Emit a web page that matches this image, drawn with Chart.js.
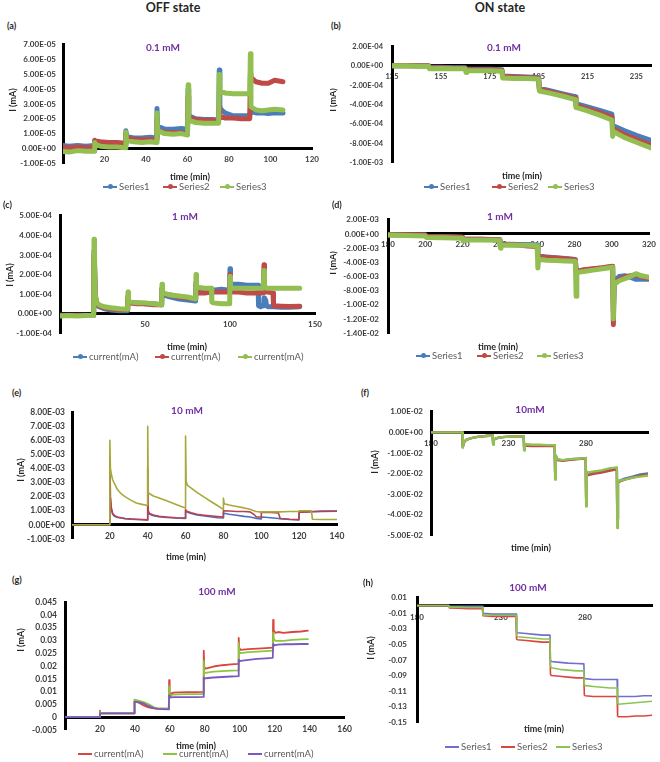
<!DOCTYPE html>
<html><head><meta charset="utf-8">
<script src="https://cdn.jsdelivr.net/npm/chart.js@4.4.0/dist/chart.umd.min.js"></script>
<style>
body{margin:0;width:660px;height:762px;background:#fff;position:relative;overflow:hidden;font-family:Lato,sans-serif;}
canvas{position:absolute;}
.t{position:absolute;white-space:nowrap;transform:translate(-50%,-50%);font-weight:bold;color:#262626;line-height:1;}
.pl{position:absolute;white-space:nowrap;font-weight:bold;color:#262626;line-height:1;transform:translateY(-50%);}
.yl{position:absolute;white-space:nowrap;font-weight:bold;color:#262626;line-height:1;transform:translate(-50%,-50%) rotate(-90deg);}
.clip{position:absolute;overflow:hidden;}
.lg{position:absolute;height:12px;line-height:12px;font-size:9.5px;color:#595959;white-space:nowrap;}
.ln{display:inline-block;position:relative;width:14px;height:2px;vertical-align:middle;margin-right:2px;top:-1px;}
.ln i{position:absolute;left:4.5px;top:-1.5px;width:5px;height:5px;border-radius:50%;}
</style></head><body>
<script>
// ---------- data ----------
const seriesNames = ['Series1','Series2','Series3'];
const currentNames = ['current(mA)','current(mA)','current(mA)'];

// (a) OFF 0.1 mM
const aT  = [0,3,7,11,15, 15.3,15.6,18,22,26,30, 30.3,30.6,34,38,42,45, 45.3,45.6,49,53,57,60, 60.3,60.6,64,68,72,75, 75.3,75.6,78,82,86,90, 90.3,90.6,93,96,99,102,106];
const aS1 = [0.2e-5,0.15e-5,0.2e-5,0.15e-5,0.2e-5, 0.5e-5,0.35e-5,0.3e-5,0.3e-5,0.25e-5,0.25e-5, 1.2e-5,0.8e-5,0.7e-5,0.7e-5,0.75e-5,0.7e-5, 2.7e-5,1.5e-5,1.3e-5,1.3e-5,1.35e-5,1.3e-5, 4.0e-5,2.2e-5,2.0e-5,1.95e-5,1.95e-5,1.9e-5, 5.3e-5,2.7e-5,2.4e-5,2.2e-5,2.2e-5,2.2e-5, 2.6e-5,2.5e-5,2.4e-5,2.4e-5,2.35e-5,2.4e-5,2.4e-5];
const aS2 = [0.1e-5,0.05e-5,0.1e-5,0.05e-5,0.1e-5, 0.55e-5,0.5e-5,0.45e-5,0.4e-5,0.4e-5,0.35e-5, 1.0e-5,0.7e-5,0.6e-5,0.6e-5,0.6e-5,0.6e-5, 2.0e-5,1.2e-5,1.1e-5,1.05e-5,1.05e-5,1.0e-5, 3.5e-5,2.0e-5,1.95e-5,1.9e-5,1.9e-5,1.9e-5, 2.8e-5,2.2e-5,2.05e-5,2.05e-5,2.0e-5,2.0e-5, 5.0e-5,4.8e-5,4.5e-5,4.4e-5,4.4e-5,4.6e-5,4.5e-5];
const aS3 = [-0.2e-5,-0.25e-5,-0.15e-5,-0.2e-5,-0.2e-5, 0.4e-5,0.25e-5,0.15e-5,0.1e-5,0.1e-5,0.05e-5, 1.1e-5,0.55e-5,0.45e-5,0.4e-5,0.45e-5,0.4e-5, 2.4e-5,1.2e-5,1.0e-5,0.95e-5,1.0e-5,0.9e-5, 4.3e-5,1.9e-5,1.75e-5,1.7e-5,1.7e-5,1.7e-5, 5.0e-5,3.9e-5,3.75e-5,3.7e-5,3.7e-5,3.7e-5, 6.4e-5,2.8e-5,2.6e-5,2.55e-5,2.6e-5,2.65e-5,2.6e-5];
const aXTicks = [20,40,60,80,100,120];
const aYTicks = [-1e-5,0,1e-5,2e-5,3e-5,4e-5,5e-5,6e-5,7e-5];

// (b) ON 0.1 mM
const bT  = [135,140,145,150, 150.3,155,160,165, 165.3,165.6,170,175,180, 180.3,185,190,195, 195.3,200,205,210, 210.3,215,220,225, 225.3,225.6,230,235,241];
const bS1 = [0,0,0,0, -0.15e-4,-0.15e-4,-0.2e-4,-0.2e-4, -0.4e-4,-0.35e-4,-0.35e-4,-0.35e-4,-0.4e-4, -1.05e-4,-1.1e-4,-1.15e-4,-1.2e-4, -2.3e-4,-2.6e-4,-2.9e-4,-3.2e-4, -3.9e-4,-4.25e-4,-4.6e-4,-5.0e-4, -6.1e-4,-6.2e-4,-6.7e-4,-7.2e-4,-7.7e-4];
const bS2 = [0,0,0,0, -0.2e-4,-0.2e-4,-0.25e-4,-0.25e-4, -0.45e-4,-0.4e-4,-0.4e-4,-0.4e-4,-0.45e-4, -1.1e-4,-1.15e-4,-1.2e-4,-1.25e-4, -2.4e-4,-2.7e-4,-3.0e-4,-3.35e-4, -4.1e-4,-4.45e-4,-4.85e-4,-5.3e-4, -6.4e-4,-6.5e-4,-7.1e-4,-7.6e-4,-8.2e-4];
const bS3 = [0,0,-0.05e-4,-0.05e-4, -0.3e-4,-0.28e-4,-0.3e-4,-0.3e-4, -0.7e-4,-0.5e-4,-0.5e-4,-0.5e-4,-0.55e-4, -1.25e-4,-1.3e-4,-1.3e-4,-1.35e-4, -2.6e-4,-2.85e-4,-3.15e-4,-3.5e-4, -4.3e-4,-4.65e-4,-5.1e-4,-5.6e-4, -7.3e-4,-6.8e-4,-7.4e-4,-7.9e-4,-8.5e-4];
const bXTicks = [135,155,175,195,215,235];
const bYTicks = [-1e-3,-8e-4,-6e-4,-4e-4,-2e-4,0,2e-4];

// (c) OFF 1 mM
const cT  = [0,5,10,15,19.8, 20,20.3,20.8,21.5,23,26,30,35,39.8, 40,40.3,41,45,50,55,59.8, 60,60.3,61,65,70,75,79.8, 80,80.3,81,85,89,89.3,90,95,99.8, 100,100.3,101,105,110,116.5,116.8,118,119.5,119.8, 120,120.3,121,121.5,122.5,125.3,125.6,130,135,141];
const cS1 = [-0.1e-4,-0.08e-4,-0.1e-4,-0.08e-4,-0.1e-4, 3.0e-4,2.4e-4,0.9e-4,0.5e-4,0.35e-4,0.25e-4,0.18e-4,0.15e-4,0.15e-4, 0.9e-4,0.6e-4,0.55e-4,0.55e-4,0.5e-4,0.5e-4,0.45e-4, 1.3e-4,1.0e-4,0.95e-4,0.85e-4,0.75e-4,0.7e-4,0.65e-4, 1.6e-4,1.15e-4,1.1e-4,1.15e-4,1.2e-4,1.2e-4,1.2e-4,1.25e-4,1.2e-4, 2.3e-4,1.6e-4,1.5e-4,1.5e-4,1.45e-4,1.45e-4,0.4e-4,0.35e-4,0.45e-4,0.4e-4, 0.8e-4,0.7e-4,0.7e-4,0.4e-4,0.35e-4,0.35e-4,0.35e-4,0.33e-4,0.33e-4,0.35e-4];
const cS2 = [-0.08e-4,-0.1e-4,-0.08e-4,-0.1e-4,-0.08e-4, 3.2e-4,2.5e-4,0.9e-4,0.55e-4,0.4e-4,0.3e-4,0.25e-4,0.2e-4,0.2e-4, 0.8e-4,0.6e-4,0.55e-4,0.5e-4,0.5e-4,0.45e-4,0.45e-4, 1.3e-4,1.05e-4,1.0e-4,0.95e-4,0.85e-4,0.8e-4,0.75e-4, 1.5e-4,1.1e-4,1.05e-4,1.05e-4,1.1e-4,1.1e-4,1.1e-4,1.1e-4,1.1e-4, 2.0e-4,1.2e-4,1.1e-4,1.1e-4,1.05e-4,1.05e-4,1.05e-4,1.05e-4,1.05e-4,1.05e-4, 2.5e-4,1.3e-4,1.15e-4,1.1e-4,1.1e-4,1.05e-4,0.4e-4,0.38e-4,0.36e-4,0.38e-4];
const cS3 = [-0.12e-4,-0.1e-4,-0.12e-4,-0.1e-4,-0.1e-4, 3.8e-4,3.0e-4,1.0e-4,0.6e-4,0.45e-4,0.35e-4,0.3e-4,0.25e-4,0.22e-4, 1.1e-4,0.7e-4,0.6e-4,0.55e-4,0.55e-4,0.5e-4,0.45e-4, 1.5e-4,1.15e-4,1.05e-4,0.95e-4,0.9e-4,0.85e-4,0.75e-4, 2.0e-4,1.4e-4,1.35e-4,1.3e-4,1.3e-4,0.6e-4,0.55e-4,0.5e-4,0.5e-4, 1.9e-4,1.35e-4,1.3e-4,1.3e-4,1.3e-4,1.3e-4,1.3e-4,1.3e-4,1.3e-4,1.3e-4, 2.2e-4,1.4e-4,1.35e-4,1.3e-4,1.3e-4,1.3e-4,1.3e-4,1.3e-4,1.3e-4,1.3e-4];
const cXTicks = [50,100,150];
const cYTicks = [-1e-4,0,1e-4,2e-4,3e-4,4e-4,5e-4];

// (d) ON 1 mM
const dT  = [180,190,200, 200.7,210,220, 220.3,220.6,230,240, 240.3,240.6,245,250,255,260, 260.4,260.8,261.5,265,270,275,280.5, 280.9,281.3,282,285,290,295,300.5, 300.9,301.3,302,304,307,310,313,316,320];
const dS1 = [-0.1e-3,-0.1e-3,-0.15e-3, -0.4e-3,-0.4e-3,-0.45e-3, -0.8e-3,-0.75e-3,-0.75e-3,-0.8e-3, -1.4e-3,-1.4e-3,-1.45e-3,-1.5e-3,-1.5e-3,-1.55e-3, -3.0e-3,-3.1e-3,-3.15e-3,-3.25e-3,-3.35e-3,-3.45e-3,-3.6e-3, -5.2e-3,-5.3e-3,-5.25e-3,-5.1e-3,-4.95e-3,-4.8e-3,-4.6e-3, -11.0e-3,-6.8e-3,-6.5e-3,-6.0e-3,-5.9e-3,-6.1e-3,-6.4e-3,-6.4e-3,-6.4e-3];
const dS2 = [-0.1e-3,-0.1e-3,-0.15e-3, -0.4e-3,-0.4e-3,-0.45e-3, -0.8e-3,-0.75e-3,-0.75e-3,-0.8e-3, -1.5e-3,-1.45e-3,-1.5e-3,-1.55e-3,-1.7e-3,-1.75e-3, -3.0e-3,-3.1e-3,-3.2e-3,-3.3e-3,-3.4e-3,-3.5e-3,-3.65e-3, -5.2e-3,-5.3e-3,-5.25e-3,-5.05e-3,-4.9e-3,-4.75e-3,-4.55e-3, -12.8e-3,-7.0e-3,-6.8e-3,-6.4e-3,-6.1e-3,-5.9e-3,-5.8e-3,-6.0e-3,-6.3e-3];
const dS3 = [-0.15e-3,-0.2e-3,-0.3e-3, -0.5e-3,-0.55e-3,-0.6e-3, -1.0e-3,-0.85e-3,-0.85e-3,-0.9e-3, -2.0e-3,-1.6e-3,-1.55e-3,-1.6e-3,-1.6e-3,-1.65e-3, -4.8e-3,-3.5e-3,-3.6e-3,-3.7e-3,-3.75e-3,-3.8e-3,-3.85e-3, -8.8e-3,-5.6e-3,-5.4e-3,-5.3e-3,-5.1e-3,-4.9e-3,-4.7e-3, -12.0e-3,-7.3e-3,-7.0e-3,-6.6e-3,-6.3e-3,-6.0e-3,-5.6e-3,-5.9e-3,-6.1e-3];
const dXTicks = [180,200,220,240,260,280,300,320];
const dYTicks = [-1.4e-2,-1.2e-2,-1e-2,-8e-3,-6e-3,-4e-3,-2e-3,0,2e-3];

// (e) OFF 10 mM
const eT  = [0,10,19.9, 20,20.3,20.8,21.5,22.5,24,26,28,31,34,37,39.9, 40,40.3,41,43,46,50,55,59.9, 60,60.3,61,63,66,70,74,77,79.9, 80,80.4,83,87,91,94,96,97.5,99.9, 100,100.4,105,109,110,115,119.9, 120,120.4,125,126.5,127,132,140];
const eS1 = [0,0,0, 2.3e-3,1.8e-3,1.1e-3,0.75e-3,0.6e-3,0.52e-3,0.48e-3,0.44e-3,0.4e-3,0.38e-3,0.36e-3,0.34e-3, 1.4e-3,0.9e-3,0.75e-3,0.65e-3,0.58e-3,0.52e-3,0.48e-3,0.45e-3, 1.0e-3,0.95e-3,0.9e-3,0.8e-3,0.7e-3,0.62e-3,0.55e-3,0.5e-3,0.48e-3, 0.85e-3,0.82e-3,0.75e-3,0.68e-3,0.6e-3,0.55e-3,0.5e-3,0.45e-3,0.42e-3, 0.55e-3,0.55e-3,0.5e-3,0.45e-3,0.44e-3,0.38e-3,0.35e-3, 0.88e-3,0.9e-3,0.93e-3,0.95e-3,0.95e-3,0.97e-3,0.98e-3];
const eS2 = [0,0,0, 4.8e-3,2.0e-3,1.2e-3,0.8e-3,0.65e-3,0.55e-3,0.5e-3,0.45e-3,0.42e-3,0.4e-3,0.38e-3,0.35e-3, 4.0e-3,1.0e-3,0.8e-3,0.7e-3,0.6e-3,0.55e-3,0.5e-3,0.48e-3, 1.1e-3,1.0e-3,0.95e-3,0.85e-3,0.75e-3,0.68e-3,0.62e-3,0.58e-3,0.55e-3, 1.0e-3,1.0e-3,0.98e-3,0.95e-3,0.95e-3,0.92e-3,0.75e-3,0.55e-3,0.55e-3, 0.9e-3,0.88e-3,0.88e-3,0.85e-3,0.45e-3,0.4e-3,0.38e-3, 0.88e-3,0.9e-3,0.92e-3,0.93e-3,0.93e-3,0.95e-3,0.96e-3];
const eS3 = [0,0,0, 6.0e-3,4.0e-3,3.6e-3,3.2e-3,2.9e-3,2.5e-3,2.2e-3,2.0e-3,1.75e-3,1.55e-3,1.45e-3,1.37e-3, 7.0e-3,2.3e-3,2.2e-3,2.05e-3,1.9e-3,1.7e-3,1.45e-3,1.2e-3, 6.3e-3,3.1e-3,2.8e-3,2.6e-3,2.3e-3,1.95e-3,1.6e-3,1.35e-3,1.1e-3, 1.9e-3,1.5e-3,1.4e-3,1.3e-3,1.2e-3,1.1e-3,1.0e-3,0.95e-3,0.9e-3, 0.9e-3,0.92e-3,0.92e-3,0.92e-3,0.92e-3,0.95e-3,0.95e-3, 1.0e-3,1.0e-3,1.0e-3,1.0e-3,0.4e-3,0.38e-3,0.38e-3];
const eXTicks = [20,40,60,80,100,120,140];
const eYTicks = [-1e-3,0,1e-3,2e-3,3e-3,4e-3,5e-3,6e-3,7e-3,8e-3];

// (f) ON 10 mM
const fT  = [180,190,200.2,200.5,201.5,203,206,210,215,219.8, 220.1,220.5,221.5,224,228,233,239.8, 240.1,240.5,241.5,245,250,255,259.8, 260.1,260.5,261.5,265,270,275,279.8, 280.1,280.5,281.5,285,290,295,299.9, 300.2,300.6,301.5,305,310,315,320];
const fS1 = [0,0,0,-0.7e-2,-0.45e-2,-0.35e-2,-0.28e-2,-0.22e-2,-0.18e-2,-0.15e-2, -0.55e-2,-0.38e-2,-0.3e-2,-0.25e-2,-0.22e-2,-0.2e-2,-0.2e-2, -0.8e-2,-0.6e-2,-0.6e-2,-0.62e-2,-0.62e-2,-0.63e-2,-0.63e-2, -2.0e-2,-1.15e-2,-1.32e-2,-1.36e-2,-1.31e-2,-1.28e-2,-1.25e-2, -3.2e-2,-1.95e-2,-2.0e-2,-1.95e-2,-1.88e-2,-1.8e-2,-1.75e-2, -4.2e-2,-2.4e-2,-2.35e-2,-2.25e-2,-2.15e-2,-2.05e-2,-2.0e-2];
const fS2 = [0,0,0,-0.7e-2,-0.45e-2,-0.35e-2,-0.28e-2,-0.22e-2,-0.18e-2,-0.15e-2, -0.55e-2,-0.38e-2,-0.3e-2,-0.25e-2,-0.22e-2,-0.2e-2,-0.2e-2, -0.8e-2,-0.65e-2,-0.65e-2,-0.66e-2,-0.66e-2,-0.67e-2,-0.67e-2, -2.0e-2,-1.15e-2,-1.35e-2,-1.38e-2,-1.33e-2,-1.3e-2,-1.27e-2, -3.2e-2,-2.0e-2,-2.08e-2,-2.02e-2,-1.95e-2,-1.87e-2,-1.8e-2, -4.2e-2,-2.45e-2,-2.4e-2,-2.3e-2,-2.2e-2,-2.1e-2,-2.05e-2];
const fS3 = [0,0,0,-0.75e-2,-0.45e-2,-0.35e-2,-0.28e-2,-0.22e-2,-0.18e-2,-0.15e-2, -0.6e-2,-0.38e-2,-0.3e-2,-0.25e-2,-0.22e-2,-0.2e-2,-0.2e-2, -0.88e-2,-0.62e-2,-0.58e-2,-0.6e-2,-0.6e-2,-0.62e-2,-0.62e-2, -2.3e-2,-1.1e-2,-1.3e-2,-1.35e-2,-1.3e-2,-1.28e-2,-1.25e-2, -3.6e-2,-1.9e-2,-1.95e-2,-1.9e-2,-1.85e-2,-1.75e-2,-1.7e-2, -4.65e-2,-2.4e-2,-2.35e-2,-2.3e-2,-2.2e-2,-2.15e-2,-2.1e-2];
const fXTicks = [180,230,280];
const fYTicks = [-5e-2,-4e-2,-3e-2,-2e-2,-1e-2,0,1e-2];

// (g) OFF 100 mM
const gT  = [0,10,19.8, 20,20.3,21,30, 39.6,39.8,41,43,45,47,49,51,53,56, 59.4,59.6,59.9,60.5,61,62,65,70,75, 79.2,79.4,79.7,80.5,85,90,95, 99.2,99.4,99.7,100.5,105,110,115, 118.9,119.1,119.4,120.3,122,125,130,135,139];
const gS1 = [0,0,0, 0.0025,0.0015,0.0015,0.0015, 0.0015,0.0063,0.0060,0.0053,0.0046,0.0040,0.0036,0.0034,0.0033,0.0033, 0.0033,0.0145,0.0090,0.0082,0.0093,0.0096,0.0097,0.0098,0.0098, 0.0099,0.026,0.0195,0.0190,0.0198,0.0203,0.0206, 0.0208,0.031,0.027,0.0263,0.0266,0.0268,0.0270, 0.0272,0.038,0.034,0.0330,0.0333,0.0330,0.0333,0.0335,0.0338];
const gS2 = [0,0,0, 0.0020,0.0015,0.0015,0.0015, 0.0015,0.0069,0.0066,0.0063,0.0059,0.0053,0.0046,0.0038,0.0034,0.0033, 0.0032,0.0120,0.0085,0.0086,0.0087,0.0088,0.0089,0.0090,0.0090, 0.0090,0.022,0.0175,0.0173,0.0178,0.0180,0.0182, 0.0183,0.029,0.0255,0.0250,0.0254,0.0256,0.0258, 0.0260,0.033,0.031,0.0298,0.0298,0.0298,0.0302,0.0304,0.0305];
const gS3 = [0,0,0, 0.0015,0.0015,0.0015,0.0015, 0.0015,0.0060,0.0060,0.0058,0.0053,0.0046,0.0040,0.0035,0.0032,0.0031, 0.0030,0.0085,0.0076,0.0077,0.0077,0.0078,0.0078,0.0078,0.0078, 0.0079,0.0155,0.0150,0.0152,0.0155,0.0157,0.0159, 0.0160,0.0225,0.0218,0.0220,0.0224,0.0228,0.0230, 0.0232,0.0285,0.0280,0.0282,0.0284,0.0285,0.0285,0.0286,0.0286];
const gXTicks = [20,40,60,80,100,120,140,160];
const gYTicks = [-0.005,0,0.005,0.01,0.015,0.02,0.025,0.03,0.035,0.04,0.045];

// (h) ON 100 mM
const hT  = [180,190,199,199.3,205,210, 219,219.3,225,230, 239,239.3,239.8,245,250,255, 259.2,259.5,260,265,270,275, 279.4,279.7,280.2,285,290,295, 299.2,299.5,300,305,310,315,320];
const hS1 = [0,0,0,-0.001,-0.001,-0.001, -0.001,-0.010,-0.011,-0.011, -0.011,-0.033,-0.035,-0.036,-0.037,-0.038, -0.038,-0.070,-0.072,-0.073,-0.074,-0.0745, -0.075,-0.093,-0.094,-0.095,-0.095,-0.095, -0.095,-0.117,-0.117,-0.117,-0.117,-0.116,-0.116];
const hS2 = [0,0,0,-0.003,-0.0035,-0.004, -0.004,-0.013,-0.014,-0.014, -0.014,-0.043,-0.044,-0.045,-0.046,-0.047, -0.047,-0.088,-0.090,-0.091,-0.092,-0.093, -0.093,-0.115,-0.116,-0.117,-0.117,-0.117, -0.117,-0.142,-0.143,-0.143,-0.142,-0.142,-0.141];
const hS3 = [0,0,0,-0.002,-0.002,-0.0025, -0.0025,-0.012,-0.0125,-0.0125, -0.0125,-0.038,-0.040,-0.041,-0.042,-0.043, -0.043,-0.077,-0.080,-0.082,-0.083,-0.084, -0.084,-0.101,-0.103,-0.104,-0.105,-0.106, -0.106,-0.125,-0.127,-0.126,-0.125,-0.124,-0.123];
const hXTicks = [180,230,280];
const hYTicks = [-0.15,-0.13,-0.11,-0.09,-0.07,-0.05,-0.03,-0.01,0.01];

// ---------- helpers ----------
Chart.defaults.font.family = 'Lato';
const LBL = '#3d3d3d';

function fmtE(v){
  if (Math.abs(v) < 1e-15) return '0.00E+00';
  let e = Math.floor(Math.log10(Math.abs(v)));
  let m = v / Math.pow(10, e);
  if (Math.abs(m) >= 9.995) { e++; m = v / Math.pow(10, e); }
  if (Math.abs(m) < 0.9995) { e--; m = v / Math.pow(10, e); }
  return m.toFixed(2) + 'E' + (e < 0 ? '-' : '+') + String(Math.abs(e)).padStart(2, '0');
}
function fmtD(v){ return String(parseFloat(v.toFixed(3))); }

function pts(t, s){ return t.map((x, i) => ({x: x, y: s[i]})); }

function panel(c){
  const yW = 60, padT = 10, padB = 10, padR = 14;
  const left = c.x0 - yW, top = c.yTop - padT;
  const w = c.x1 - left + padR, h = c.yBot - top + padB;
  const cv = document.createElement('canvas');
  cv.width = w; cv.height = h;
  cv.style.left = left + 'px'; cv.style.top = top + 'px';
  cv.style.width = w + 'px'; cv.style.height = h + 'px';
  document.body.appendChild(cv);
  const datasets = c.series.map((s, i) => ({
    label: c.names[i],
    data: pts(c.t, s),
    borderColor: c.colors[i],
    backgroundColor: c.colors[i],
    borderWidth: c.lw,
    pointRadius: 0,
    tension: 0,
    fill: false,
    borderJoinStyle: 'round',
    borderCapStyle: 'round',
    order: 3 - i
  }));
  const font = {size: c.fs, weight: 'bold', family: 'Lato'};
  new Chart(cv, {
    type: 'line',
    data: {datasets},
    options: {
      responsive: false, animation: false, devicePixelRatio: 1,
      layout: {padding: {left: 0, right: padR, top: padT, bottom: padB}, autoPadding: false},
      plugins: {legend: {display: false}, tooltip: {enabled: false}},
      scales: {
        x: {
          type: 'linear', min: c.xmin, max: c.xmax, position: {y: 0},
          grid: {display: false, drawTicks: false},
          border: {display: true, color: '#000', width: 3},
          ticks: {padding: c.xp, font, color: LBL, autoSkip: false, maxRotation: 0, callback: v => String(v)},
          afterBuildTicks: s => { s.ticks = c.xt.map(v => ({value: v})); }
        },
        y: {
          type: 'linear', min: c.ymin, max: c.ymax,
          grid: {display: false, drawTicks: false},
          border: {display: true, color: '#000', width: 3},
          ticks: {padding: c.yp, font, color: LBL, autoSkip: false, callback: v => c.fmt(v)},
          afterBuildTicks: s => { s.ticks = c.yt.map(v => ({value: v})); },
          afterFit: s => { s.width = yW; }
        }
      }
    }
  });
}

function txt(s, x, y, size, color, cls){
  const d = document.createElement('div');
  d.className = cls || 't';
  d.textContent = s;
  d.style.left = x + 'px'; d.style.top = y + 'px';
  d.style.fontSize = size + 'px';
  if (color) d.style.color = color;
  document.body.appendChild(d);
  return d;
}
function ylab(x, y, size, clipLeft){
  if (clipLeft !== undefined){
    const cl = document.createElement('div');
    cl.className = 'clip';
    cl.style.left = clipLeft + 'px'; cl.style.top = (y - 30) + 'px';
    cl.style.width = '12px'; cl.style.height = '60px';
    const d = document.createElement('div');
    d.className = 'yl'; d.textContent = 'I (mA)';
    d.style.left = (x - clipLeft) + 'px'; d.style.top = '30px'; d.style.fontSize = size + 'px';
    cl.appendChild(d); document.body.appendChild(cl);
  } else {
    txt('I (mA)', x, y, size, null, 'yl');
  }
}
function legend(xs, y, names, colors, marker){
  xs.forEach((x, i) => {
    const d = document.createElement('div');
    d.className = 'lg';
    d.style.left = x + 'px'; d.style.top = (y - 6) + 'px';
    d.innerHTML = '<span class="ln" style="background:' + colors[i] + '">' +
      (marker ? '<i style="background:' + colors[i] + '"></i>' : '') + '</span>';
    d.appendChild(document.createTextNode(names[i]));
    document.body.appendChild(d);
  });
}

// ---------- colours ----------
const C3 = ['#4a7ebb', '#be4b48', '#93be51'];
const CE = ['#4a6fc2', '#b8434d', '#a7a93b'];
const CG = ['#d9463f', '#8cc63f', '#7a59be'];
const CH = ['#7070cc', '#d9473f', '#8cc454'];
const PURP = '#7030a0';

// ---------- panels ----------
panel({x0:63, x1:312, yTop:43, yBot:165, xmin:0, xmax:120, ymin:-1e-5, ymax:7e-5, xt:aXTicks, yt:aYTicks, t:aT, series:[aS1,aS2,aS3], names:seriesNames, colors:C3, lw:5, fs:8, xp:6, yp:7, fmt:fmtE});
panel({x0:392, x1:651, yTop:43, yBot:166, xmin:135, xmax:241, ymin:-1e-3, ymax:2e-4, xt:bXTicks, yt:bYTicks, t:bT, series:[bS1,bS2,bS3], names:seriesNames, colors:C3, lw:5, fs:7.5, xp:6, yp:9, fmt:fmtE});
panel({x0:60, x1:315, yTop:213, yBot:336, xmin:0, xmax:150, ymin:-1e-4, ymax:5e-4, xt:cXTicks, yt:cYTicks, t:cT, series:[cS1,cS2,cS3], names:currentNames, colors:C3, lw:5, fs:8, xp:6, yp:8, fmt:fmtE});
panel({x0:388, x1:649, yTop:216, yBot:337, xmin:180, xmax:320, ymin:-1.4e-2, ymax:2e-3, xt:dXTicks, yt:dYTicks, t:dT, series:[dS1,dS2,dS3], names:seriesNames, colors:C3, lw:5, fs:8, xp:6, yp:9, fmt:fmtE});
panel({x0:72, x1:337, yTop:410, yBot:541, xmin:0, xmax:140, ymin:-1e-3, ymax:8e-3, xt:eXTicks, yt:eYTicks, t:eT, series:[eS1,eS2,eS3], names:seriesNames, colors:CE, lw:1.6, fs:8.5, xp:6, yp:7, fmt:fmtE});
panel({x0:431, x1:648, yTop:409, yBot:538, xmin:180, xmax:320, ymin:-5e-2, ymax:1e-2, xt:fXTicks, yt:fYTicks, t:fT, series:[fS1,fS2,fS3], names:seriesNames, colors:C3, lw:2.4, fs:8, xp:6, yp:8, fmt:fmtE});
panel({x0:65, x1:345, yTop:599, yBot:733, xmin:0, xmax:160, ymin:-0.005, ymax:0.045, xt:gXTicks, yt:gYTicks, t:gT, series:[gS1,gS2,gS3], names:currentNames, colors:CG, lw:1.8, fs:8.5, xp:7, yp:8, fmt:fmtD});
panel({x0:417, x1:652, yTop:593, yBot:727, xmin:180, xmax:320, ymin:-0.15, ymax:0.01, xt:hXTicks, yt:hYTicks, t:hT, series:[hS1,hS2,hS3], names:seriesNames, colors:CH, lw:1.6, fs:8, xp:7, yp:10, fmt:fmtD});

// ---------- texts ----------
txt('OFF state', 173, 8, 12.5);
txt('ON state', 500, 8, 12.5);

txt('(a)', 7, 25, 9, null, 'pl');
txt('(b)', 331, 25, 9, null, 'pl');
txt('(c)', 3, 204, 9, null, 'pl');
txt('(d)', 332, 204, 9, null, 'pl');
txt('(e)', 12, 392, 9, null, 'pl');
txt('(f)', 361, 392, 9, null, 'pl');
txt('(g)', 12, 579, 9, null, 'pl');
txt('(h)', 363, 582, 9, null, 'pl');

txt('0.1 mM', 163, 47, 10, PURP);
txt('0.1 mM', 504, 47, 10, PURP);
txt('1 mM', 185, 216, 10, PURP);
txt('1 mM', 500, 216, 10, PURP);
txt('10 mM', 187, 410, 10, PURP);
txt('10mM', 530, 409, 10, PURP);
txt('100 mM', 217, 591, 10, PURP);
txt('100 mM', 528, 587, 10, PURP);

txt('time (min)', 190, 176, 9);
txt('time (min)', 522, 175, 9);
txt('time (min)', 187, 346, 9);
txt('time (min)', 498, 346, 9);
txt('time (min)', 186, 556, 9);
txt('time (min)', 531, 547, 9);
txt('time (min)', 196, 745, 9);
txt('time (min)', 544, 728, 9);

ylab(12, 100, 9);
ylab(332, 100, 9, 330);
ylab(9, 275, 9);
ylab(332, 263, 9, 330);
ylab(20, 470, 9);
ylab(374, 462, 9);
ylab(20, 640, 9);
ylab(370, 648, 9);

legend([103, 163, 220], 187, seriesNames, C3, true);
legend([424, 492, 548], 187, seriesNames, C3, true);
legend([73, 155, 238], 357, currentNames, C3, true);
legend([416, 477, 537], 356, seriesNames, C3, true);
legend([78, 163, 248], 754, currentNames, CG, false);
legend([445, 501, 556], 747, seriesNames, CH, false);
</script>
</body></html>
